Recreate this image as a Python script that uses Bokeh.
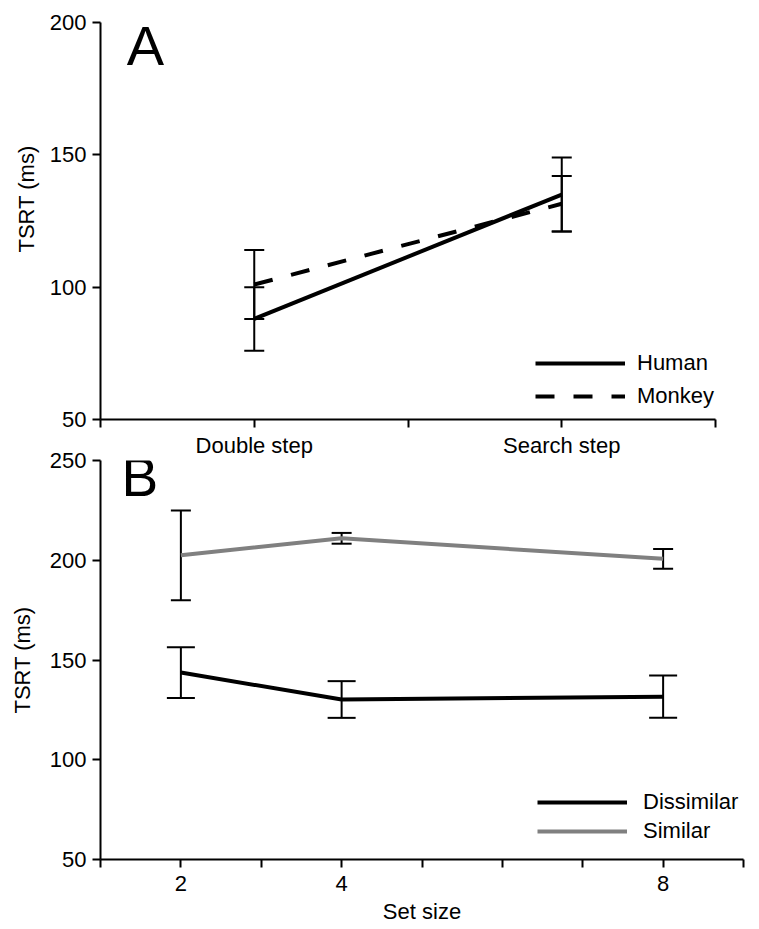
from bokeh.plotting import figure
from bokeh.models import Range1d, FixedTicker, Whisker, TeeHead, ColumnDataSource, Label, Title
from bokeh.layouts import column
from bokeh.embed import file_html
from bokeh.resources import INLINE

# ---------------- data ----------------
conditions = ["Double step", "Search step"]
human_mean = [88, 135]
human_err = [12, 14]
monkey_mean = [101, 131.5]
monkey_err = [13, 10.5]
yticks_a = [50, 100, 150, 200]

set_sizes = [2, 4, 8]
dissimilar_mean = [143.7, 130.2, 131.6]
dissimilar_err = [12.7, 9.2, 10.6]
similar_mean = [202.5, 211, 200.7]
similar_err = [22.5, 2.7, 5]
yticks_b = [50, 100, 150, 200, 250]

FONT = "Liberation Sans"
FS = "22px"
GREY = "#808080"
FRAME_W = 643


def style(p):
    for ax in (p.xaxis[0], p.yaxis[0]):
        ax.axis_line_width = 2
        ax.axis_line_color = "black"
        ax.major_tick_line_width = 2
        ax.major_tick_line_color = "black"
        ax.major_tick_out = 8
        ax.major_tick_in = 0
        ax.minor_tick_line_color = None
        ax.major_label_text_font = FONT
        ax.major_label_text_font_size = FS
        ax.major_label_text_color = "black"
        ax.axis_label_text_font = FONT
        ax.axis_label_text_font_size = FS
        ax.axis_label_text_font_style = "normal"
        ax.axis_label_text_color = "black"
    p.xaxis.major_label_standoff = 5
    p.yaxis.major_label_standoff = 6
    p.yaxis.axis_label_standoff = 12
    p.xgrid.grid_line_color = None
    p.ygrid.grid_line_color = None
    p.outline_line_color = None


def style_legend(lg, loc, spacing, standoff):
    lg.location = loc
    lg.glyph_width = 90
    lg.glyph_height = 24
    lg.label_height = 24
    lg.spacing = spacing
    lg.label_standoff = standoff
    lg.padding = 0
    lg.margin = 0
    lg.border_line_color = None
    lg.background_fill_alpha = 0
    lg.label_text_font = FONT
    lg.label_text_font_size = FS
    lg.label_text_color = "black"


# ---------------- panel A ----------------
n_a = 2 * len(conditions)
xa = [2 * i + 1 for i in range(len(conditions))]
pa = figure(width=100 + FRAME_W + 12, height=460, output_backend="svg", toolbar_location=None,
            x_range=Range1d(0, n_a * FRAME_W / 615), y_range=Range1d(50, 200),
            min_border_left=100, min_border_right=12, min_border_top=22, min_border_bottom=40)
style(pa)
pa.xaxis.bounds = (0, n_a)
pa.yaxis.ticker = FixedTicker(ticks=yticks_a)
pa.xaxis.ticker = FixedTicker(ticks=list(range(0, n_a + 1)))
ova = {t: "" for t in range(0, n_a + 1)}
ova.update({x: c for x, c in zip(xa, conditions)})
pa.xaxis.major_label_overrides = ova
pa.add_layout(Title(text="TSRT (ms)", align="left", offset=167, standoff=16,
                    text_font=FONT, text_font_size=FS, text_font_style="normal",
                    text_color="black"), "left")

pa.line(xa, human_mean, line_color="black", line_width=4, legend_label="Human")
pa.line(xa, monkey_mean, line_color="black", line_width=4, line_dash="19 19",
        legend_label="Monkey")
for m, e in ((human_mean, human_err), (monkey_mean, monkey_err)):
    src = ColumnDataSource(dict(x=xa, upper=[a + b for a, b in zip(m, e)],
                                lower=[a - b for a, b in zip(m, e)]))
    pa.add_layout(Whisker(source=src, base="x", upper="upper", lower="lower",
                          line_color="black", line_width=2,
                          upper_head=TeeHead(size=20, line_width=2, line_color="black"),
                          lower_head=TeeHead(size=20, line_width=2, line_color="black")))

style_legend(pa.legend[0], (435, 10), 7, 12)

pa.add_layout(Label(x=0.17, y=191.4, text="A", text_font=FONT, text_font_size="56px",
                    text_baseline="alphabetic", text_color="black"))

# ---------------- panel B ----------------
pb = figure(width=100 + FRAME_W + 12, height=487, output_backend="svg", toolbar_location=None,
            x_range=Range1d(1, 9), y_range=Range1d(50, 250),
            min_border_left=100, min_border_right=12, min_border_top=20, min_border_bottom=68,
            margin=(-20, 0, 0, 0))
pb.border_fill_color = None
pb.background_fill_color = None
style(pb)
pb.yaxis.axis_label = "TSRT (ms)"
pb.xaxis.axis_label = "Set size"
pb.xaxis.major_label_standoff = 8
pb.xaxis.axis_label_standoff = 5
pb.yaxis.ticker = FixedTicker(ticks=yticks_b)
pb.xaxis.ticker = FixedTicker(ticks=list(range(1, 10)))
ovb = {t: "" for t in range(1, 10)}
ovb.update({s: str(s) for s in set_sizes})
pb.xaxis.major_label_overrides = ovb

pb.line(set_sizes, dissimilar_mean, line_color="black", line_width=4, legend_label="Dissimilar")
pb.line(set_sizes, similar_mean, line_color=GREY, line_width=4, legend_label="Similar")
for m, e, hs in ((similar_mean, similar_err, 20), (dissimilar_mean, dissimilar_err, 28)):
    src = ColumnDataSource(dict(x=set_sizes, upper=[a + b for a, b in zip(m, e)],
                                lower=[a - b for a, b in zip(m, e)]))
    pb.add_layout(Whisker(source=src, base="x", upper="upper", lower="lower",
                          line_color="black", line_width=2,
                          upper_head=TeeHead(size=hs, line_width=2, line_color="black"),
                          lower_head=TeeHead(size=hs, line_width=2, line_color="black")))

style_legend(pb.legend[0], (437, 15), 3, 16)

pb.add_layout(Label(x=1.26, y=241.5, text="B", text_font=FONT, text_font_size="55px",
                    text_baseline="alphabetic", text_color="black"))

layout = column(pa, pb)
open("out.html", "w").write(file_html(layout, INLINE))
